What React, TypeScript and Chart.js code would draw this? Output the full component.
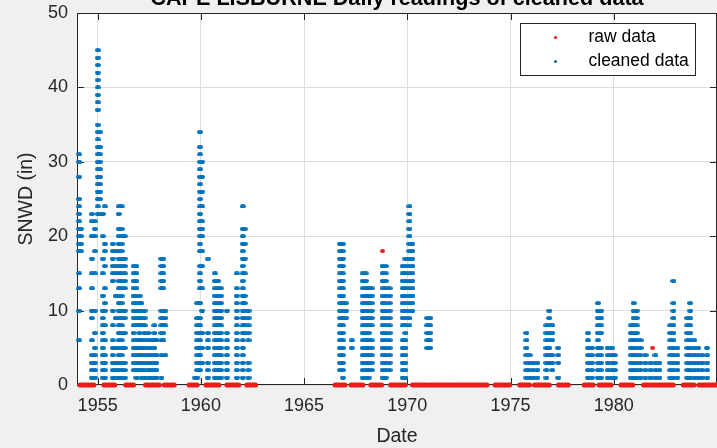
import { useEffect, useRef } from "react";
import { Chart, registerables } from "chart.js";

Chart.register(...registerables);

// ---------- text ----------
const TITLE = "CAPE LISBURNE Daily readings of cleaned data";
const X_LABEL = "Date";
const Y_LABEL = "SNWD (in)";
const RAW_LABEL = "raw data";
const CLEAN_LABEL = "cleaned data";

// ---------- axes ----------
const X_MIN = 1954;
const X_MAX = 1985;
const xTickYears = [1955, 1960, 1965, 1970, 1975, 1980];
const Y_MIN = 0;
const Y_MAX = 50;
const yTickValues = [0, 10, 20, 30, 40, 50];

// ---------- cleaned data: [decimal year, snow depths (in) seen at that date column] ----------
type Col = [number, number[]];

const snow1954: Col[] = [
  [1954.10, [31, 30, 28, 25, 24, 23, 22, 21, 20, 19, 18, 15, 13, 10, 6]],
  [1954.19, [21, 20, 19, 18]],
];

const snow1955: Col[] = [
  [1954.72, [23, 22, 20, 17, 15, 13, 10, 9, 6, 4, 3, 2, 1]],
  [1954.87, [22, 21, 20, 18, 15, 10, 7, 5, 4, 3, 2, 1]],
  [1955.01, [45, 44, 43, 42, 41, 40, 39, 38, 37, 35, 34, 33, 32, 31, 30, 29, 28, 27, 26, 25, 24, 23]],
  [1955.11, [34, 32, 31, 30, 29, 28, 27, 26, 25, 23]],
  [1955.25, [23, 20, 17, 15, 12, 10, 9, 8, 7, 6, 5, 4, 3, 2, 1]],
  [1955.35, [24, 19, 18, 16, 13, 11, 10, 8, 6, 4, 3, 2, 1]],
  [1955.73, [19, 18, 17, 16, 15, 14, 10, 8, 6, 5, 4, 3, 2, 1]],
  [1955.87, [18, 16, 15, 12, 9, 5, 3, 2, 1]],
];

const snow1956to58: Col[] = [
  [1956.02, [24, 23, 21, 20, 19, 18, 17, 16, 15, 14, 13, 12, 11, 10, 9, 8, 7, 6, 5, 4, 3, 2, 1]],
  [1956.16, [24, 21, 20, 19, 18, 17, 16, 15, 14, 13, 12, 11, 10, 9, 8, 7, 6, 5, 4, 3, 2, 1]],
  [1956.31, [20, 17, 16, 15, 14, 13, 10, 9, 7, 5, 3, 2, 1]],
  [1956.74, [16, 15, 14, 13, 12, 11, 10, 9, 8, 7, 6, 5, 4, 3, 2]],
  [1956.88, [16, 15, 14, 13, 12, 11, 10, 9, 8, 6, 5, 4, 3, 2, 1]],
  [1957.03, [12, 11, 10, 9, 8, 7, 6, 5, 4, 3, 2]],
  [1957.12, [11, 10, 9, 8, 6, 5, 4, 3, 2, 1]],
  [1957.27, [10, 9, 8, 7, 6, 5, 4, 3, 2, 1]],
  [1957.46, [7, 6, 5, 4, 3, 2, 1]],
  [1957.60, [6, 5, 4, 3, 2, 1]],
  [1957.75, [8, 7, 6, 5, 4, 3, 2, 1]],
  [1957.85, [6, 4, 3, 2, 1]],
  [1958.09, [17, 16, 15, 14, 13, 10, 9, 8, 7, 6, 4, 1]],
  [1958.18, [17, 16, 15, 14, 13, 10, 9, 8, 7, 6]],
  [1958.28, [10, 9, 8, 4]],
];

const snow1960to62: Col[] = [
  [1959.72, [1]],
  [1959.82, [11, 9, 8, 7, 6, 5, 4, 3, 2, 1]],
  [1959.96, [34, 32, 31, 30, 29, 28, 27, 26, 25, 24, 23, 22, 21, 20, 19, 18, 16, 15, 14, 13, 11, 9, 8, 7, 6, 5, 4, 3, 2]],
  [1960.06, [30, 28, 26, 24, 22, 21, 20, 18, 16, 13, 10, 7, 5, 3]],
  [1960.34, [17, 7, 6, 5, 3, 2, 1]],
  [1960.68, [15, 14, 13, 12, 11, 10, 9, 8, 7, 6, 5, 4, 3, 2, 1]],
  [1960.83, [14, 13, 12, 11, 10, 9, 8, 7, 6, 5, 4, 3, 2, 1]],
  [1960.97, [13, 12, 11, 10, 9, 8, 7, 6, 5, 4, 3, 2, 1]],
  [1961.26, [10, 7, 6, 5, 4, 3, 2, 1]],
  [1961.74, [15, 13, 12, 11, 10, 9, 8, 7, 6, 5, 4, 3, 2, 1]],
  [1962.03, [24, 21, 20, 19, 18, 17, 16, 15, 14, 13, 12, 11, 10, 9, 8, 7, 6, 5, 4, 3, 2, 1]],
  [1962.12, [21, 19, 17, 15, 12, 11, 10, 9, 8, 7]],
  [1962.31, [10, 9, 8, 7, 6, 3, 2, 1]],
];

const snow1967to71: Col[] = [
  [1966.74, [19, 18, 17, 16, 15, 14, 13, 12, 11, 10, 9, 8, 7, 6, 5, 4, 3, 2]],
  [1966.88, [19, 18, 17, 16, 15, 14, 13, 12, 11, 10, 9, 8, 7, 6, 5, 4, 3, 2, 1]],
  [1967.03, [11, 10, 9]],
  [1967.31, [6, 5]],
  [1967.84, [15, 14, 13, 12, 11, 10, 9, 8, 7, 6, 5, 4, 3, 2, 1]],
  [1967.99, [15, 14, 13, 12, 11, 10, 9, 8, 7, 6, 5, 4, 3, 2, 1]],
  [1968.13, [13, 12, 11, 10, 9, 8, 7, 6, 5, 4, 3, 2, 1]],
  [1968.27, [13, 12, 11, 10, 9, 8, 6, 5, 4, 3, 2]],
  [1968.80, [16, 15, 14, 13, 12, 11, 10, 9, 8, 7, 6, 5, 4, 3, 2, 1]],
  [1968.95, [16, 15, 14, 13, 12, 11, 10, 9, 8, 7, 6, 5, 4, 3, 2, 1]],
  [1969.14, [13, 12, 11, 10, 9, 8, 7, 6, 5, 4, 3, 2]],
  [1969.77, [16, 15, 14, 13, 12, 11, 10, 9, 8, 6, 5, 4, 3, 2, 1]],
  [1969.91, [17, 16, 15, 14, 13, 12, 11, 10, 9, 8, 7, 6, 5, 4, 3, 2, 1]],
  [1970.10, [24, 23, 22, 21, 20, 19, 18, 17, 16, 15, 14, 13, 12, 11, 10, 9, 8]],
  [1970.25, [19, 18, 17, 16, 15, 14, 13, 12, 11, 10]],
  [1970.97, [9, 8, 7, 6, 5]],
  [1971.11, [9, 8, 7, 6, 5]],
];

const snow1976to80: Col[] = [
  [1975.77, [7, 6, 5, 4, 3, 2, 1]],
  [1975.92, [4, 3, 2, 1]],
  [1976.11, [3, 2, 1]],
  [1976.30, [3, 2, 1]],
  [1976.73, [8, 7, 6, 5, 4, 3, 2, 1]],
  [1976.88, [10, 9, 8, 7, 6, 5, 4, 3]],
  [1977.02, [8, 7, 6, 4, 3, 2]],
  [1977.31, [5, 4, 3, 1]],
  [1978.75, [7, 6, 5, 4, 3, 2, 1]],
  [1978.94, [5, 4, 3, 2, 1]],
  [1979.23, [11, 10, 9, 8, 7, 6, 5, 4, 3, 2, 1]],
  [1979.38, [10, 9, 8, 7, 5, 4, 3, 2, 1]],
  [1979.71, [5, 4, 3, 2, 1]],
  [1979.91, [5, 4, 3, 2, 1]],
  [1980.05, [4, 3, 2, 1]],
];

const snow1981to85: Col[] = [
  [1980.82, [8, 7, 6, 5, 4, 3, 2, 1]],
  [1980.96, [11, 10, 9, 8, 7, 6, 5, 4, 3, 2, 1]],
  [1981.11, [10, 9, 8, 7, 6, 5, 4, 3, 2, 1]],
  [1981.30, [6, 5, 4, 3, 2, 1]],
  [1981.54, [4, 3, 2, 1]],
  [1981.78, [3, 2, 1]],
  [1982.02, [4, 3, 2, 1]],
  [1982.21, [3, 2, 1]],
  [1982.74, [8, 7, 6, 5, 4, 3, 2, 1]],
  [1982.89, [14, 11, 10, 9, 8, 7, 6, 5, 4, 3, 2, 1]],
  [1983.08, [5, 4, 3, 2, 1]],
  [1983.56, [9, 8, 7, 6, 5, 4, 3, 2, 1]],
  [1983.70, [11, 10, 9, 8, 7, 6, 5, 4, 3, 2, 1]],
  [1983.90, [6, 5, 4, 3, 2, 1]],
  [1984.09, [5, 4, 3, 2, 1]],
  [1984.28, [4, 3, 2, 1]],
  [1984.52, [5, 4, 3, 2, 1]],
];

// ---------- raw data ----------
// raw readings that were rejected by cleaning (non-zero outliers)
const rawOutliers = [
  { x: 1968.8, y: 18 },
  { x: 1981.88, y: 5 },
];
// periods (start year, end year) where the raw reading was 0
const rawZeroSpans: [number, number][] = [
  [1954.14, 1954.82], [1955.30, 1955.83], [1956.36, 1956.74], [1957.32, 1957.99],
  [1958.23, 1958.71], [1959.43, 1959.82], [1960.25, 1960.88], [1961.26, 1961.84],
  [1962.22, 1962.65], [1966.50, 1966.98], [1967.27, 1967.85], [1968.23, 1968.76],
  [1969.19, 1969.91], [1970.25, 1970.97], [1971.07, 1971.93], [1972.03, 1973.86],
  [1974.25, 1974.96], [1975.44, 1975.92], [1976.16, 1976.88], [1977.32, 1977.80],
  [1978.57, 1979.00], [1979.29, 1979.87], [1980.35, 1980.92], [1981.44, 1982.88],
  [1983.37, 1983.89], [1984.13, 1985.0],
];

// ---------- styles ----------
const BLUE = "#0072BD";
const RED = "#f01a1a";
const INK = "#262626";
const FONT = "'Liberation Sans', Arial, Helvetica, sans-serif";

const allColumns: Col[] = [
  ...snow1954, ...snow1955, ...snow1956to58, ...snow1960to62,
  ...snow1967to71, ...snow1976to80, ...snow1981to85,
];

// small horizontal smear marker (many consecutive daily dots overlap)
function makeMarker(color: string, w: number, h: number) {
  const c = document.createElement("canvas");
  c.width = w;
  c.height = h;
  const g = c.getContext("2d")!;
  g.fillStyle = color;
  g.beginPath();
  g.ellipse(w / 2, h / 2, w / 2, h / 2, 0, 0, Math.PI * 2);
  g.fill();
  return c;
}

const framePlugin = {
  id: "matlabFrame",
  beforeDraw(chart: any) {
    const { ctx, width, height, chartArea: a } = chart;
    ctx.save();
    ctx.fillStyle = "#f0f0f0";
    ctx.fillRect(0, 0, width, height);
    ctx.fillStyle = "#ffffff";
    ctx.fillRect(a.left, a.top, a.right - a.left, a.bottom - a.top);
    ctx.restore();
  },
  beforeDatasetsDraw(chart: any) {
    const { ctx, chartArea: a, scales } = chart;
    const x = scales.x;
    const y = scales.y;
    const T = 7;
    ctx.save();
    ctx.strokeStyle = INK;
    ctx.lineWidth = 1;
    ctx.beginPath();
    ctx.rect(Math.round(a.left) + 0.5, Math.round(a.top) + 0.5,
      Math.round(a.right - a.left) - 1, Math.round(a.bottom - a.top) - 1);
    for (const v of xTickYears) {
      const p = Math.round(x.getPixelForValue(v)) + 0.5;
      ctx.moveTo(p, a.top); ctx.lineTo(p, a.top + T);
      ctx.moveTo(p, a.bottom); ctx.lineTo(p, a.bottom - T);
    }
    for (const v of yTickValues) {
      const p = Math.round(y.getPixelForValue(v)) + 0.5;
      ctx.moveTo(a.left, p); ctx.lineTo(a.left + T, p);
      ctx.moveTo(a.right, p); ctx.lineTo(a.right - T, p);
    }
    ctx.stroke();
    ctx.restore();
  },
  afterDraw(chart: any) {
    const { ctx, chartArea: a } = chart;
    const bw = 175, bh = 52;
    const bx = Math.round(a.right - 197) + 0.5;
    const by = Math.round(a.top + 10) + 0.5;
    ctx.save();
    ctx.fillStyle = "#ffffff";
    ctx.fillRect(bx, by, bw, bh);
    ctx.strokeStyle = INK;
    ctx.lineWidth = 1;
    ctx.strokeRect(bx, by, bw, bh);
    const items = [
      { label: chart.data.datasets[0].label, color: RED },
      { label: chart.data.datasets[1].label, color: "#1f6f8f" },
    ];
    ctx.font = `17.5px ${FONT}`;
    ctx.textBaseline = "middle";
    ctx.textAlign = "left";
    items.forEach((it, i) => {
      const cy = by + 14 + i * 24;
      ctx.fillStyle = it.color;
      ctx.beginPath();
      ctx.arc(bx + 35, cy, 1.6, 0, Math.PI * 2);
      ctx.fill();
      ctx.fillStyle = "#000000";
      ctx.fillText(it.label, bx + 68, cy);
    });
    ctx.restore();
  },
};

export default function App() {
  const ref = useRef<HTMLCanvasElement | null>(null);

  useEffect(() => {
    if (!ref.current) return;
    const cleaned = allColumns.flatMap(([x, ys]) => ys.map((y) => ({ x, y })));
    const zeros: any[] = [];
    rawZeroSpans.forEach(([s, e]) => {
      zeros.push({ x: s, y: 0 }, { x: e, y: 0 }, { x: e, y: null });
    });
    const blueMark = makeMarker(BLUE, 6, 4);
    const redMark = makeMarker(RED, 5, 4);

    const chart = new Chart(ref.current, {
      type: "scatter",
      data: {
        datasets: [
          {
            label: RAW_LABEL,
            data: rawOutliers,
            backgroundColor: RED,
            borderColor: RED,
            pointStyle: redMark as any,
            pointRadius: 2.5,
            order: 1,
            clip: false as any,
          },
          {
            label: CLEAN_LABEL,
            data: cleaned,
            backgroundColor: BLUE,
            borderColor: BLUE,
            pointStyle: blueMark as any,
            pointRadius: 3,
            order: 0,
            clip: false as any,
          },
          {
            label: RAW_LABEL + " (0)",
            data: zeros,
            showLine: true,
            spanGaps: false,
            borderColor: RED,
            backgroundColor: RED,
            borderWidth: 5,
            borderCapStyle: "round",
            pointRadius: 0,
            order: 2,
            clip: false as any,
          } as any,
        ],
      },
      options: {
        responsive: false,
        animation: false,
        devicePixelRatio: 1,
        layout: { padding: { top: 6, left: 0, right: 0, bottom: 0 } },
        plugins: {
          legend: { display: false },
          tooltip: { enabled: false },
          title: {
            display: true,
            fullSize: false,
            text: TITLE,
            color: "#000000",
            font: { family: FONT, size: 21.6, weight: "bold", lineHeight: 1.2 },
            padding: { top: 0, bottom: 1.1 },
          },
        },
        scales: {
          x: {
            type: "linear",
            min: X_MIN,
            max: X_MAX,
            afterBuildTicks: (s: any) => {
              s.ticks = xTickYears.map((v) => ({ value: v }));
            },
            afterFit: (s: any) => {
              s.height = 63;
            },
            grid: { color: "#dedede", drawTicks: false, lineWidth: 1 },
            border: { display: false },
            ticks: {
              color: INK,
              padding: 10,
              maxRotation: 0,
              font: { family: FONT, size: 18, lineHeight: 1.2 },
              callback: (v: any) => String(v),
            },
            title: {
              display: true,
              text: X_LABEL,
              color: INK,
              font: { family: FONT, size: 19.5, lineHeight: 1.2 },
              padding: { top: 0, bottom: 0 },
            },
          },
          y: {
            type: "linear",
            min: Y_MIN,
            max: Y_MAX,
            afterBuildTicks: (s: any) => {
              s.ticks = yTickValues.map((v) => ({ value: v }));
            },
            afterFit: (s: any) => {
              s.width = 77;
            },
            grid: { color: "#dedede", drawTicks: false, lineWidth: 1 },
            border: { display: false },
            ticks: {
              color: INK,
              padding: 9,
              font: { family: FONT, size: 18, lineHeight: 1.2 },
            },
            title: {
              display: true,
              text: Y_LABEL,
              color: INK,
              font: { family: FONT, size: 19.5, lineHeight: 1.2 },
              padding: { top: 15, bottom: 0 },
            },
          },
        },
      },
      plugins: [framePlugin],
    });
    return () => chart.destroy();
  }, []);

  return (
    <div
      style={{
        position: "fixed",
        left: 0,
        top: -20,
        width: 722,
        height: 468,
        overflow: "hidden",
        background: "#f0f0f0",
      }}
    >
      <canvas ref={ref} width={722} height={468} style={{ display: "block" }} />
    </div>
  );
}
